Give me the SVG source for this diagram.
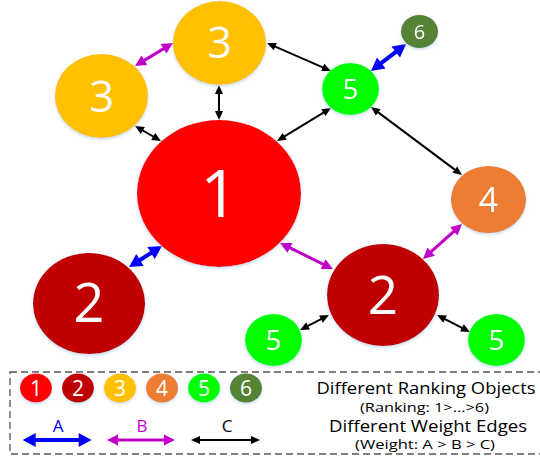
<svg xmlns="http://www.w3.org/2000/svg" width="540" height="460" viewBox="0 0 540 460">
<style>
.lbl{font-family:"Open Sans","Noto Sans","Liberation Sans",sans-serif;fill:#fff;text-anchor:middle}
.txt{font-family:"Open Sans","Noto Sans","Liberation Sans",sans-serif;fill:#000;text-anchor:middle}
.ea{fill:none;stroke:#0000FF;stroke-width:4;marker-start:url(#mA);marker-end:url(#mA)}
.eb{fill:none;stroke:#C000C8;stroke-width:3;marker-start:url(#mB);marker-end:url(#mB)}
.ec{fill:none;stroke:#000;stroke-width:2;marker-start:url(#mC);marker-end:url(#mC)}
.n{filter:url(#sh)}
</style>
<defs>
<filter id="sh" x="-20%" y="-20%" width="140%" height="140%">
<feDropShadow dx="0" dy="1.5" stdDeviation="1.5" flood-color="#9dc3e6" flood-opacity="0.6"/>
</filter>
<marker id="mA" markerUnits="userSpaceOnUse" markerWidth="13" markerHeight="14" refX="6" refY="7" orient="auto-start-reverse" overflow="visible"><path d="M0,0 L13,7 L0,14 z" fill="#0000FF"/></marker>
<marker id="mB" markerUnits="userSpaceOnUse" markerWidth="11" markerHeight="11" refX="6" refY="5.5" orient="auto-start-reverse" overflow="visible"><path d="M0,0 L11,5.5 L0,11 z" fill="#C000C8"/></marker>
<marker id="mC" markerUnits="userSpaceOnUse" markerWidth="9" markerHeight="8" refX="5" refY="4" orient="auto-start-reverse" overflow="visible"><path d="M0,0 L9,4 L0,8 z" fill="#000"/></marker>
</defs>
<g id="connectors">
<path class="eb" d="M139.3,63.4 L168.7,45.6"/>
<path class="ec" d="M219,89 L219,116"/>
<path class="ec" d="M138.5,128 L157.5,139"/>
<path class="ec" d="M280.4,138.9 L327.6,110.1"/>
<path class="ec" d="M270.7,44.6 L327.3,69.4"/>
<path class="ea" d="M376.5,66.7 L400.5,48.3"/>
<path class="ec" d="M374.2,109.4 L458.8,172.6"/>
<path class="eb" d="M284.5,245.2 L328.5,266.8"/>
<path class="eb" d="M458.3,227.3 L426.7,255.7"/>
<path class="ec" d="M325.4,316.8 L303.6,328.2"/>
<path class="ec" d="M440.6,316.8 L466.4,330.2"/>
<path class="ea" d="M156.1,249.8 L134.9,263.2"/>
</g>
<g id="node-1" class="n"><ellipse cx="219" cy="193.5" rx="82" ry="73.5" fill="#FF0000"/><text class="lbl" x="219" y="217" font-size="66">1</text></g>
<g id="node-3-top" class="n"><ellipse cx="219.5" cy="43" rx="46.5" ry="42" fill="#FFC000"/><text class="lbl" x="219.5" y="58" font-size="43">3</text></g>
<g id="node-3-left" class="n"><ellipse cx="101.5" cy="96" rx="46.5" ry="42" fill="#FFC000"/><text class="lbl" x="101.5" y="112" font-size="44">3</text></g>
<g id="node-5-top" class="n"><ellipse cx="350.5" cy="89" rx="28.5" ry="26" fill="#00FF00"/><text class="lbl" x="350.5" y="99" font-size="28">5</text></g>
<g id="node-6" class="n"><ellipse cx="419.5" cy="31.5" rx="18.5" ry="16.5" fill="#548235"/><text class="lbl" x="419.5" y="39" font-size="20">6</text></g>
<g id="node-4" class="n"><ellipse cx="488.5" cy="199.5" rx="37.5" ry="33.5" fill="#ED7D31"/><text class="lbl" x="488.5" y="212" font-size="34">4</text></g>
<g id="node-2-right" class="n"><ellipse cx="383" cy="295" rx="56" ry="51" fill="#C00000"/><text class="lbl" x="383" y="314" font-size="53">2</text></g>
<g id="node-2-left" class="n"><ellipse cx="89" cy="303.5" rx="56" ry="50.5" fill="#C00000"/><text class="lbl" x="89" y="322" font-size="54">2</text></g>
<g id="node-5-bl" class="n"><ellipse cx="273.5" cy="340" rx="28.5" ry="26" fill="#00FF00"/><text class="lbl" x="273.5" y="350" font-size="28">5</text></g>
<g id="node-5-br" class="n"><ellipse cx="496.5" cy="340" rx="28.5" ry="26" fill="#00FF00"/><text class="lbl" x="496.5" y="350" font-size="28">5</text></g>
<g id="legend">
<rect x="10" y="372" width="535" height="82" fill="none" stroke="#555" stroke-width="1.3" stroke-dasharray="7,4"/>
<g class="n">
<ellipse cx="36" cy="388" rx="16" ry="14.5" fill="#FF0000"/>
<ellipse cx="78" cy="388" rx="16" ry="14.5" fill="#C00000"/>
<ellipse cx="120" cy="388" rx="16" ry="14.5" fill="#FFC000"/>
<ellipse cx="162" cy="388" rx="16" ry="14.5" fill="#ED7D31"/>
<ellipse cx="204" cy="388" rx="16" ry="14.5" fill="#00FF00"/>
<ellipse cx="246" cy="388" rx="16" ry="14.5" fill="#548235"/>
</g>
<text class="lbl" x="36" y="395.5" font-size="21">1</text>
<text class="lbl" x="78" y="395.5" font-size="21">2</text>
<text class="lbl" x="120" y="395.5" font-size="21">3</text>
<text class="lbl" x="162" y="395.5" font-size="21">4</text>
<text class="lbl" x="204" y="395.5" font-size="21">5</text>
<text class="lbl" x="246" y="395.5" font-size="21">6</text>
<path class="ea" d="M29.7,440 L84.7,440"/>
<path class="eb" d="M112,440 L170,440"/>
<path class="ec" d="M195,440 L256,440"/>
<text class="txt" x="58" y="432" font-size="17" style="fill:#0000FF">A</text>
<text class="txt" x="142" y="432" font-size="17" style="fill:#C000C8">B</text>
<text class="txt" x="227" y="432" font-size="17">C</text>
<text class="txt" x="426" y="394" font-size="16" textLength="219" lengthAdjust="spacingAndGlyphs">Different Ranking Objects</text>
<text class="txt" x="424.5" y="412" font-size="12" textLength="129" lengthAdjust="spacingAndGlyphs">(Ranking: 1&gt;...&gt;6)</text>
<text class="txt" x="428" y="431.5" font-size="16" textLength="198" lengthAdjust="spacingAndGlyphs">Different Weight Edges</text>
<text class="txt" x="425" y="449" font-size="12" textLength="140" lengthAdjust="spacingAndGlyphs">(Weight: A &gt; B &gt; C)</text>
</g>
</svg>
